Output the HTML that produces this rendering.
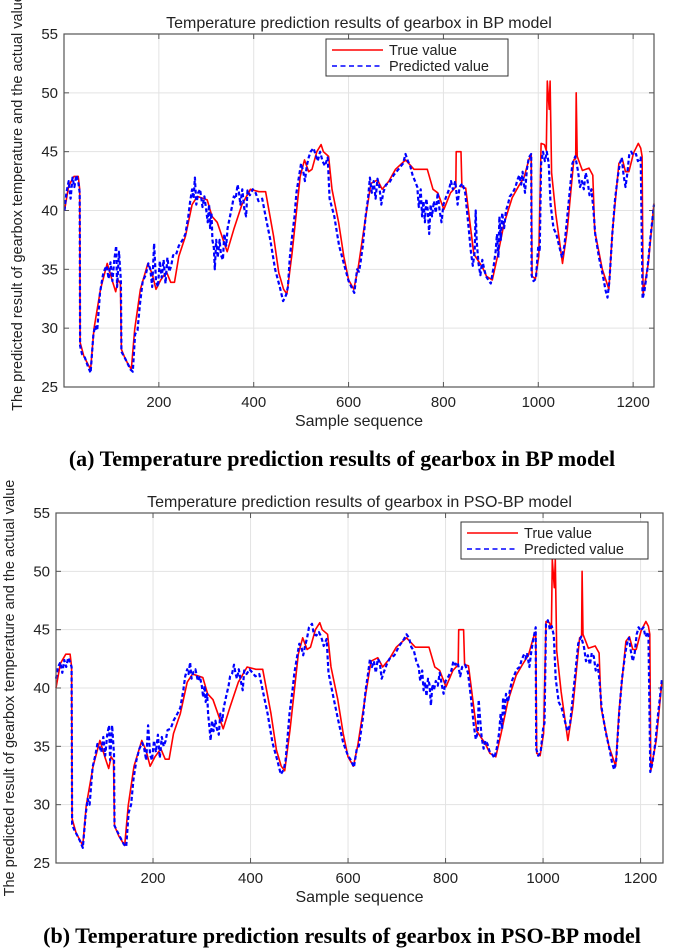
<!DOCTYPE html>
<html><head><meta charset="utf-8"><style>
body{margin:0;background:#fff;width:685px;height:949px;overflow:hidden}
svg{position:absolute;left:0;top:0}
text{font-family:"Liberation Sans",Arial,sans-serif;fill:#222}
.cap{font-family:"Liberation Serif",serif;font-weight:bold;font-size:22px;fill:#000}
</style></head><body>
<svg id="fig" width="685" height="949" viewBox="0 0 685 949"></svg>
<script>
// ---- data ----
const trueX = [1,10,21,30,33,34,42,56,63,77,91,102,109,114,119,121,130,142,149,161,177,186,194,204,216,225,233,242,256,270,281,302,312,323,344,358,375,393,411,425,442,453,463,470,481,498,507,516,523,533,542,547,558,565,579,590,600,611,620,633,647,661,671,685,699,720,738,755,766,778,788,801,815,826,827,837,839,847,864,882,891,903,914,928,945,959,970,980,985,987,994,1001,1006,1013,1017,1019,1023,1025,1028,1037,1051,1061,1075,1079,1080,1082,1093,1107,1115,1119,1135,1149,1156,1170,1177,1184,1191,1201,1211,1216,1219,1221,1232,1244];
const trueY = [40,42.1,42.9,42.9,41.8,28.8,27.6,26.5,29.9,33.3,35.5,34,33.1,34.1,33.8,28.2,27.3,26.5,29.9,33.3,35.5,34.6,33.3,34.1,34.8,33.9,33.9,36.1,37.8,40.5,41.2,40.9,39.5,39,36.5,38.4,40.5,41.8,41.6,41.6,37.8,34.7,33.3,32.9,36.4,42.9,44.3,43.3,43.5,45,45.6,45,44.6,41.8,39,36.1,34.1,33.3,35.1,38.6,42.3,42.6,41.8,42.5,43.5,44.3,43.5,43.5,43.5,41.8,41.5,40.1,41.5,42,45,45,42,41.9,36.3,35.2,34.4,34.1,36.1,38.9,41.1,42.1,42.8,44.3,44.8,34.4,34.2,36.1,45.7,45.6,45.1,51,48.6,51,43.2,39.7,35.5,38.3,44.3,44.4,50,44.6,43.4,43.6,43,38.3,35,33.3,38.1,44,44.4,43.3,43.3,44.9,45.7,45.3,44.6,32.9,35.5,40.6];
const predX = [1,5,10,14,18,22,26,30,33,34,38,44,50,56,62,66,70,76,82,86,90,94,98,102,106,110,112,116,120,121,128,134,140,145,150,155,160,166,172,178,182,186,190,194,198,202,206,210,214,218,222,226,230,236,242,250,256,262,266,270,273,276,279,283,287,292,296,300,303,306,308,311,313,316,318,321,324,328,331,335,338,342,345,350,355,358,362,366,369,372,376,380,384,387,392,398,404,410,418,425,435,445,455,462,468,472,476,480,486,490,496,500,505,508,512,516,520,526,530,535,540,545,550,556,560,570,580,590,600,606,612,618,622,625,630,636,641,645,649,653,657,661,665,669,673,679,685,695,705,715,720,725,730,735,740,745,748,752,755,758,761,764,767,770,773,776,780,784,788,792,796,800,806,812,816,820,825,830,834,840,846,852,858,862,866,868,870,874,878,882,886,890,896,900,905,910,913,916,918,921,924,928,932,936,940,946,952,956,960,964,967,972,976,980,985,986,990,995,1000,1003,1006,1010,1014,1018,1022,1026,1032,1038,1044,1050,1055,1060,1066,1072,1078,1084,1088,1092,1096,1100,1104,1108,1112,1116,1120,1128,1136,1142,1146,1150,1156,1162,1168,1172,1176,1180,1184,1188,1192,1196,1200,1206,1210,1216,1220,1224,1230,1236,1244];
const predBPY = [40,41.5,42.5,41,42.8,42,43,42.5,41.5,28.5,27.8,27.5,26.8,26.2,29.5,30.2,29.8,33,34.5,35,35.3,34.2,35.6,34,35.8,37,33.5,36.5,34,28,27.5,27,26.5,26.3,29.5,29.8,32,34,34.5,35.5,35,33.5,37.2,34,33.5,35.7,34.3,35.8,33.8,36,34.8,35.3,36.2,36.2,37,37.5,38,39.5,40.8,41.8,41,42.8,40.5,41.5,41.8,40.3,41.2,40,39,40.5,38.5,39.8,37.5,36.8,35,37.5,36,37.5,36.2,35.8,38,37,38.5,39.5,40.5,41.2,41,42.2,41.5,40.5,41.8,40.2,39.5,41.7,41.3,41.8,41.5,40.8,41,39.5,37.5,35,33.5,32.3,32.8,33.5,36,37.5,39.5,41.5,43,44,43.2,42.5,43.8,44.5,45,45.3,44.8,44.2,45,44.2,43.8,44.5,41,39.5,37,35.5,34,33.5,33,35,34.8,35.5,37,39.5,41,42.8,41.5,42.5,41,42.7,42,40.5,41.5,42.2,42.3,43,43.5,44,44.8,44.2,43.8,43,42.5,42,40.3,41.8,39.5,40.8,39,41,40,38,40.5,39.5,40.8,39.8,41.5,40,39,40.5,41.2,41.8,42.5,41.8,42.5,40.5,42,42.3,41.5,39,36.5,35.3,36.5,40,37.5,35.5,34.5,35.8,35,34.4,34,33.8,35,36.5,38,36,39.5,37.5,39.8,38.5,40,40.5,41.2,41.5,42,42.6,43,42.2,43.3,41.5,43.5,44.5,44.8,34.5,34,34.2,37,36.5,44,45,44.2,45,44,40.5,38.5,38,37,36,37,39,41.5,44,44.6,43.3,42,42.5,41.8,43.2,42.5,41.3,41.8,40.2,38,36,34.5,33.2,32.6,34,38,41,43,44,44.5,43,42,43.2,44.8,45,44.7,44.8,44.2,44.5,32.5,33.2,35,37.5,40.5];
const predPSOY = [40.8,41.8,42.2,41.3,42.4,41.8,42.6,42.2,41.8,28.3,27.9,27.4,26.9,26.3,29.2,30.5,30,33.2,34.3,35.2,35,34.5,35.8,34.2,36,36.8,33.8,36.8,34.3,28.2,27.6,27.1,26.6,26.4,29.3,30,32.2,33.8,34.8,35.3,34.8,33.8,36.8,34.3,33.8,35.5,34.5,36,34,35.8,35,35.5,36.4,36.5,37.2,37.8,38.3,39.8,41,41.6,41.2,42.2,40.8,41.4,41.6,40.6,41,40.2,39.2,40.2,38.8,39.5,37.8,36.5,35.5,37.2,36.3,37.2,36.5,36,37.8,37.2,38.3,39.3,40.2,41,41.2,42,41.3,40.8,41.6,40.6,39.8,41.5,41.2,41.6,41.3,41,41.2,39.8,37.8,35.3,33.8,32.6,33,33.8,35.8,37.8,39.8,41.3,42.8,43.8,43.4,42.8,43.6,44.3,45.2,45.5,44.6,44.5,44.8,44.4,43.6,44.2,41.3,39.2,37.2,35.3,34.2,33.8,33.2,34.8,35,35.8,37.3,39.8,41.2,42.5,41.8,42.3,41.3,42.5,42.2,40.8,41.3,42,42.5,42.8,43.6,44.2,44.6,44.3,43.5,43.2,42.3,41.8,40.6,41.5,39.8,40.5,39.3,40.8,40.3,38.5,40.3,39.8,40.6,40.2,41.3,40.3,39.5,40.6,41,41.5,42.3,42,42.2,41,41.8,42,41.3,39.2,36.8,35.6,36.2,39,37.8,35.8,34.8,35.5,35.2,34.6,34.3,34,34.8,36.2,37.8,36.5,39.2,37.8,39.5,38.8,39.8,40.6,41,41.6,41.8,42.4,42.8,42.5,43,41.8,43.2,44.2,45.2,34.8,34.2,34.5,36.5,37,45.5,45.8,45,45.3,44.5,40.8,38.8,38.3,37.3,36.3,36.8,38.8,41.2,43.8,44.4,43.5,42.3,42.8,42,43,42.7,41.5,42,40.5,38.3,36.3,34.8,33.5,33,33.8,37.8,40.8,42.8,43.8,44.3,43.2,42.3,43,44.6,45.2,44.9,45.2,44.4,44.8,32.8,33.5,35.2,37.8,40.8];
const yTicks = [25,30,35,40,45,50,55];
const xTicks = [200,400,600,800,1000,1200];

const NS = 'http://www.w3.org/2000/svg';
const fig = document.getElementById('fig');
function mk(tag, attrs, parent){const e=document.createElementNS(NS,tag);for(const k in attrs)e.setAttribute(k,attrs[k]);(parent||fig).appendChild(e);return e;}

function drawChart(cfg, tX, tY, pX, pY){
  const g = mk('g',{});
  
  
  const xs = v => cfg.L + (v - cfg.x0) / (cfg.x1 - cfg.x0) * (cfg.R - cfg.L);
  const ys = v => cfg.B - (v - 25) / 30 * (cfg.B - cfg.T);
  yTicks.forEach(t=>{
    const l = mk('line',{x1:cfg.L,x2:cfg.R,y1:ys(t),y2:ys(t),stroke:'#e3e3e3','stroke-width':1},g);
    
    
    mk('line',{x1:cfg.L,x2:cfg.L+5,y1:ys(t),y2:ys(t),stroke:'#555'},g);
    mk('line',{x1:cfg.R,x2:cfg.R-5,y1:ys(t),y2:ys(t),stroke:'#555'},g);
    const tx = mk('text',{x:cfg.L-6,y:ys(t)+5,'text-anchor':'end','font-size':'15px'},g);
    tx.textContent = t;
    
    
  });
  xTicks.forEach(t=>{
    const l = mk('line',{x1:xs(t),x2:xs(t),y1:cfg.T,y2:cfg.B,stroke:'#e3e3e3','stroke-width':1},g);
    
    
    mk('line',{x1:xs(t),x2:xs(t),y1:cfg.B,y2:cfg.B-5,stroke:'#555'},g);
    mk('line',{x1:xs(t),x2:xs(t),y1:cfg.T,y2:cfg.T+5,stroke:'#555'},g);
    const tx = mk('text',{x:xs(t),y:cfg.B+20,'text-anchor':'middle','font-size':'15px'},g);
    tx.textContent = t;
    
    
  });
  const pts = (X,Y)=>X.map((x,i)=>xs(x).toFixed(1)+','+ys(Y[i]).toFixed(1)).join(' ');
  const s1 = mk('polyline',{points:pts(tX,tY),fill:'none',stroke:'#ff0000','stroke-width':1.6,'stroke-linejoin':'round'},g);
  
  
  const s2 = mk('polyline',{points:pts(pX,pY),fill:'none',stroke:'#0000ff','stroke-width':2.2,'stroke-dasharray':'4 2.5','stroke-linejoin':'round'},g);
  
  
  const fr = mk('rect',{x:cfg.L,y:cfg.T,width:cfg.R-cfg.L,height:cfg.B-cfg.T,fill:'none',stroke:'#555','stroke-width':1.2},g);
  
  
  const ti = mk('text',{x:(cfg.L+cfg.R)/2,y:cfg.T-6,'text-anchor':'middle','font-size':'16px'},g);
  ti.textContent = cfg.title;
  
  
  const xl = mk('text',{x:(cfg.L+cfg.R)/2,y:cfg.B+39,'text-anchor':'middle','font-size':'16px'},g);
  xl.textContent = 'Sample sequence';
  
  
  const yl = mk('text',{x:0,y:0,'text-anchor':'middle','font-size':'14.5px',transform:`translate(${cfg.yx},${(cfg.T+cfg.B)/2+cfg.yoff}) rotate(-90)`},g);
  yl.textContent = 'The predicted result of gearbox temperature and the actual value';
  
  
  const lg = mk('g',{},g);
  
  
  mk('rect',{x:cfg.lx,y:cfg.ly,width:cfg.lw,height:37,fill:'#fff',stroke:'#333','stroke-width':1},lg);
  const e1 = mk('g',{},lg);
  
  
  mk('line',{x1:cfg.lx+6,x2:cfg.lx+57,y1:cfg.ly+11,y2:cfg.ly+11,stroke:'#ff0000','stroke-width':1.6},e1);
  const t1 = mk('text',{x:cfg.lx+63,y:cfg.ly+16,'font-size':'14.5px'},e1); t1.textContent='True value';
  const e2 = mk('g',{},lg);
  
  
  mk('line',{x1:cfg.lx+6,x2:cfg.lx+57,y1:cfg.ly+27,y2:cfg.ly+27,stroke:'#0000ff','stroke-width':1.6,'stroke-dasharray':'5 3.5'},e2);
  const t2 = mk('text',{x:cfg.lx+63,y:cfg.ly+32,'font-size':'14.5px'},e2); t2.textContent='Predicted value';
  const cp = mk('text',{x:342,y:cfg.capY,'text-anchor':'middle',class:'cap'});
  cp.textContent = cfg.caption;
  
  
}

drawChart({name:'bp-chart',L:64,R:654,T:34,B:387,x0:0,x1:1244,yx:22,yoff:-8,lx:326,ly:39,lw:182,capY:466,
  title:'Temperature prediction results of gearbox in BP model',
  caption:'(a) Temperature prediction results of gearbox in BP model'}, trueX, trueY, predX, predBPY);
drawChart({name:'pso-bp-chart',L:56,R:663,T:513,B:863,x0:1,x1:1246,yx:14,yoff:0,lx:461,ly:522,lw:187,capY:943,
  title:'Temperature prediction results of gearbox in PSO-BP model',
  caption:'(b) Temperature prediction results of gearbox in PSO-BP model'}, trueX, trueY, predX, predPSOY);
</script>
</body></html>
